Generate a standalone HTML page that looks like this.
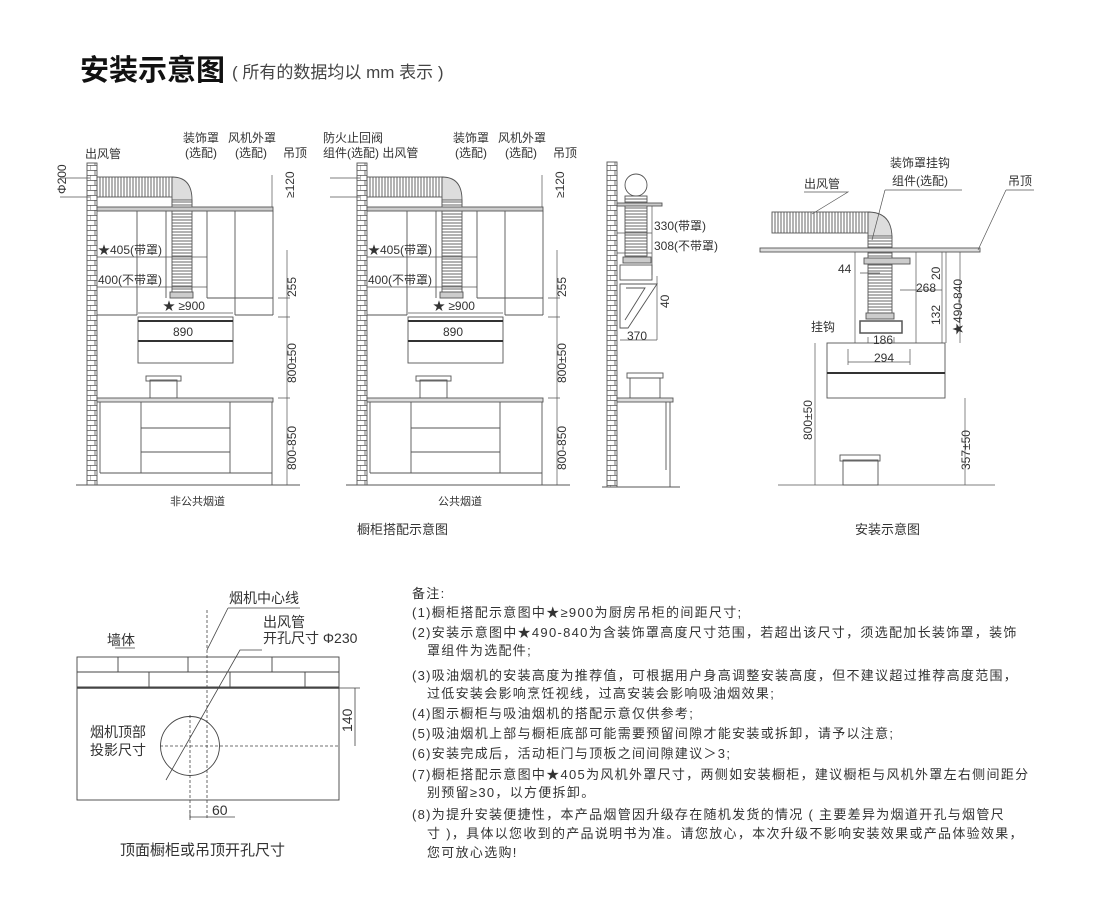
<!DOCTYPE html>
<html><head><meta charset="utf-8"><style>
html,body{margin:0;padding:0;background:#fff;width:1100px;height:899px;overflow:hidden}
svg{display:block}
text{font-family:"Liberation Sans","Noto Sans CJK SC",sans-serif;fill:#333}
</style></head><body>
<svg width="1100" height="899" viewBox="0 0 1100 899" xmlns="http://www.w3.org/2000/svg">
<defs>
<pattern id="brick" x="0" y="0" width="10" height="10" patternUnits="userSpaceOnUse">
<rect width="10" height="10" fill="#fff"/><path d="M0 0.5H10M0 5.5H10M5 0V5M0 5V10" stroke="#555" stroke-width="0.8" fill="none"/>
</pattern>
<pattern id="corH" width="3" height="10" patternUnits="userSpaceOnUse"><rect width="3" height="10" fill="#fff"/><path d="M1 0V10" stroke="#666" stroke-width="1"/></pattern>
<pattern id="corV" width="10" height="3" patternUnits="userSpaceOnUse"><rect width="10" height="3" fill="#fff"/><path d="M0 1H10" stroke="#666" stroke-width="1"/></pattern>
<g id="kit" stroke="#555" stroke-width="0.9" fill="none">
<rect x="87" y="163" width="10" height="322" fill="url(#brick)"/>
<path d="M76 485H300"/>
<rect x="97" y="177" width="76" height="20" fill="url(#corH)"/>
<path d="M172 177Q192 177 192 200L192 205 172 205 172 197Z" fill="#ddd"/>
<rect x="172" y="200" width="20" height="92" fill="url(#corV)"/>
<rect x="170" y="292" width="23" height="6" fill="#ccc"/>
<rect x="97" y="207" width="176" height="4" fill="#ccc"/>
<path d="M137 211V315M166 211V298M207 211V298M235 211V315M273 211V315M97 315H137M235 315H273M207 298H273"/>
<rect x="138" y="317" width="95" height="46"/>
<path d="M138 321H233M138 341H233" stroke="#333" stroke-width="2"/>
<rect x="150" y="380" width="27" height="18"/><rect x="146" y="376" width="35" height="5"/>
<rect x="97" y="398" width="176" height="4" fill="#ddd"/>
<path d="M100 402V473M141 402V473M230 402V473M272 402V485M141 428H230M141 452H230M100 473H272"/>
<path d="M97 257H207M97 287H207M138 313H233M287 250V485M278 298H290M278 317H290M278 398H290" stroke-width="0.7"/>
<path d="M90 178H60M90 197H60M272 175V207" stroke-width="0.7"/>
</g>
</defs>

<text x="80" y="80" font-size="29" font-weight="bold" style="fill:#111">安装示意图</text>
<text x="232" y="78" font-size="17" style="fill:#444">( 所有的数据均以 mm 表示 )</text>

<use href="#kit"/>
<use href="#kit" x="270"/>

<g font-size="12">
<text x="85" y="158">出风管</text><text x="183" y="142">装饰罩</text><text x="185" y="157">(选配)</text>
<text x="228" y="142">风机外罩</text><text x="235" y="157">(选配)</text><text x="283" y="157">吊顶</text>
<text x="98" y="254">★405(带罩)</text><text x="98" y="284">400(不带罩)</text>
<text x="163" y="310">★ ≥900</text><text x="173" y="336">890</text>
<text transform="translate(66,194) rotate(-90)">Φ200</text>
<text transform="translate(294,198) rotate(-90)">≥120</text>
<text transform="translate(296,297) rotate(-90)">255</text>
<text transform="translate(296,383) rotate(-90)">800±50</text>
<text transform="translate(296,470) rotate(-90)">800-850</text>

<text x="323" y="142">防火止回阀</text><text x="323" y="157">组件(选配) 出风管</text>
<text x="453" y="142">装饰罩</text><text x="455" y="157">(选配)</text>
<text x="498" y="142">风机外罩</text><text x="505" y="157">(选配)</text><text x="553" y="157">吊顶</text>
<text x="368" y="254">★405(带罩)</text><text x="368" y="284">400(不带罩)</text>
<text x="433" y="310">★ ≥900</text><text x="443" y="336">890</text>
<text transform="translate(564,198) rotate(-90)">≥120</text>
<text transform="translate(566,297) rotate(-90)">255</text>
<text transform="translate(566,383) rotate(-90)">800±50</text>
<text transform="translate(566,470) rotate(-90)">800-850</text>

<text x="170" y="505" font-size="11">非公共烟道</text><text x="438" y="505" font-size="11">公共烟道</text>
<text x="357" y="534" font-size="13">橱柜搭配示意图</text><text x="855" y="534" font-size="13">安装示意图</text>
</g>

<!-- side view -->
<g stroke="#555" stroke-width="0.9" fill="none">
<rect x="607" y="162" width="10" height="325" fill="url(#brick)"/>
<path d="M602 487H680"/>
<circle cx="636" cy="185" r="11"/>
<rect x="625" y="196" width="22" height="60" fill="url(#corV)"/>
<rect x="617" y="203" width="45" height="3" fill="#ccc"/>
<path d="M652 206V275M617 233H652M617 253H652" stroke-width="0.7"/>
<rect x="623" y="257" width="28" height="6" fill="#ccc"/>
<rect x="620" y="265" width="32" height="15"/>
<path d="M620 284H657L628 328H620ZM626 288L645 288 625 320" />
<path d="M620 340H657M657 276V340" stroke-width="0.7"/>
<rect x="630" y="378" width="30" height="20"/><rect x="627" y="373" width="36" height="5"/>
<rect x="617" y="398" width="56" height="4" fill="#ddd"/>
<path d="M670 402V487M666 402V470"/>
</g>
<g font-size="12">
<text x="654" y="230">330(带罩)</text><text x="654" y="250">308(不带罩)</text>
<text transform="translate(669,308) rotate(-90)">40</text><text x="627" y="340">370</text>
</g>

<!-- island -->
<g stroke="#555" stroke-width="0.9" fill="none">
<rect x="772" y="212" width="98" height="21" fill="url(#corH)"/>
<path d="M868 212Q892 212 892 238L868 238Z" fill="#ddd"/>
<rect x="868" y="236" width="24" height="77" fill="url(#corV)"/>
<rect x="760" y="248" width="220" height="4" fill="#ddd"/>
<rect x="864" y="258" width="46" height="6" fill="#ccc"/>
<path d="M855 252V343M916 252V343M942 252V343M915 290H942M860 273H880M900 290H920" stroke-width="0.7"/>
<rect x="866" y="313" width="28" height="6" fill="#ccc"/>
<rect x="860" y="321" width="42" height="12" stroke-width="1.5"/>
<path d="M868 337V343M894 337V343M848 349V365M910 349V365M848 362H910" stroke-width="0.7"/>
<rect x="827" y="343" width="118" height="55"/>
<path d="M827 373H945" stroke="#333" stroke-width="2"/>
<path d="M778 485H995M815 343V485M965 398V485M960 252V343M946 252V343" stroke-width="0.7"/>
<rect x="843" y="460" width="35" height="25"/><rect x="840" y="455" width="40" height="6"/>
<path d="M804 192H848L812 214M885 190H962M885 190L872 240M1006 190H1034M1006 190L978 250" stroke-width="0.7"/>
</g>
<g font-size="12">
<text x="804" y="188">出风管</text><text x="890" y="167">装饰罩挂钩</text><text x="892" y="185">组件(选配)</text><text x="1008" y="185">吊顶</text>
<text x="838" y="273">44</text><text x="916" y="292">268</text>
<text transform="translate(940,280) rotate(-90)">20</text>
<text transform="translate(940,325) rotate(-90)">132</text>
<text transform="translate(962,335) rotate(-90)">★490-840</text>
<text x="811" y="331">挂钩</text><text x="873" y="344">186</text><text x="874" y="362">294</text>
<text transform="translate(812,440) rotate(-90)">800±50</text>
<text transform="translate(970,470) rotate(-90)">357±50</text>
</g>

<!-- plan -->
<g stroke="#444" stroke-width="0.9" fill="none">
<rect x="77" y="657" width="262" height="143"/>
<path d="M77 672H339M77 687H339M118 657V672M188 657V672M272 657V672M149 672V687M230 672V687M305 672V687" />
<path d="M77 688H339" stroke-width="1.5"/>
<circle cx="190" cy="746" r="29.5"/>
<path d="M207 610V820M190 715V820M160 746H339" stroke-dasharray="3,2" stroke-width="0.8"/>
<path d="M190 810V820M190 817H235M339 688H360M355 688V746M262 650H240L166 780M228 608H300M228 608L207 650M115 648H135" stroke-width="0.8"/>
</g>
<g font-size="14">
<text x="229" y="603">烟机中心线</text><text x="263" y="627">出风管</text><text x="263" y="643">开孔尺寸 Φ230</text>
<text x="107" y="645">墙体</text><text x="90" y="737">烟机顶部</text><text x="90" y="755">投影尺寸</text>
<text x="212" y="815">60</text><text transform="translate(352,732) rotate(-90)">140</text>
<text x="120" y="855" font-size="15">顶面橱柜或吊顶开孔尺寸</text>
</g>

<g font-size="13" letter-spacing="1.3" style="fill:#444">
<text x="412" y="598">备注:</text>
<text x="412" y="617">(1)橱柜搭配示意图中★≥900为厨房吊柜的间距尺寸;</text>
<text x="412" y="637">(2)安装示意图中★490-840为含装饰罩高度尺寸范围，若超出该尺寸，须选配加长装饰罩，装饰</text>
<text x="427" y="655">罩组件为选配件;</text>
<text x="412" y="680">(3)吸油烟机的安装高度为推荐值，可根据用户身高调整安装高度，但不建议超过推荐高度范围，</text>
<text x="427" y="698">过低安装会影响烹饪视线，过高安装会影响吸油烟效果;</text>
<text x="412" y="718">(4)图示橱柜与吸油烟机的搭配示意仅供参考;</text>
<text x="412" y="738">(5)吸油烟机上部与橱柜底部可能需要预留间隙才能安装或拆卸，请予以注意;</text>
<text x="412" y="758">(6)安装完成后，活动柜门与顶板之间间隙建议＞3;</text>
<text x="412" y="779">(7)橱柜搭配示意图中★405为风机外罩尺寸，两侧如安装橱柜，建议橱柜与风机外罩左右侧间距分</text>
<text x="427" y="797">别预留≥30，以方便拆卸。</text>
<text x="412" y="819">(8)为提升安装便捷性，本产品烟管因升级存在随机发货的情况 ( 主要差异为烟道开孔与烟管尺</text>
<text x="427" y="838">寸 )，具体以您收到的产品说明书为准。请您放心，本次升级不影响安装效果或产品体验效果，</text>
<text x="427" y="857">您可放心选购!</text>
</g>
</svg>
</body></html>
